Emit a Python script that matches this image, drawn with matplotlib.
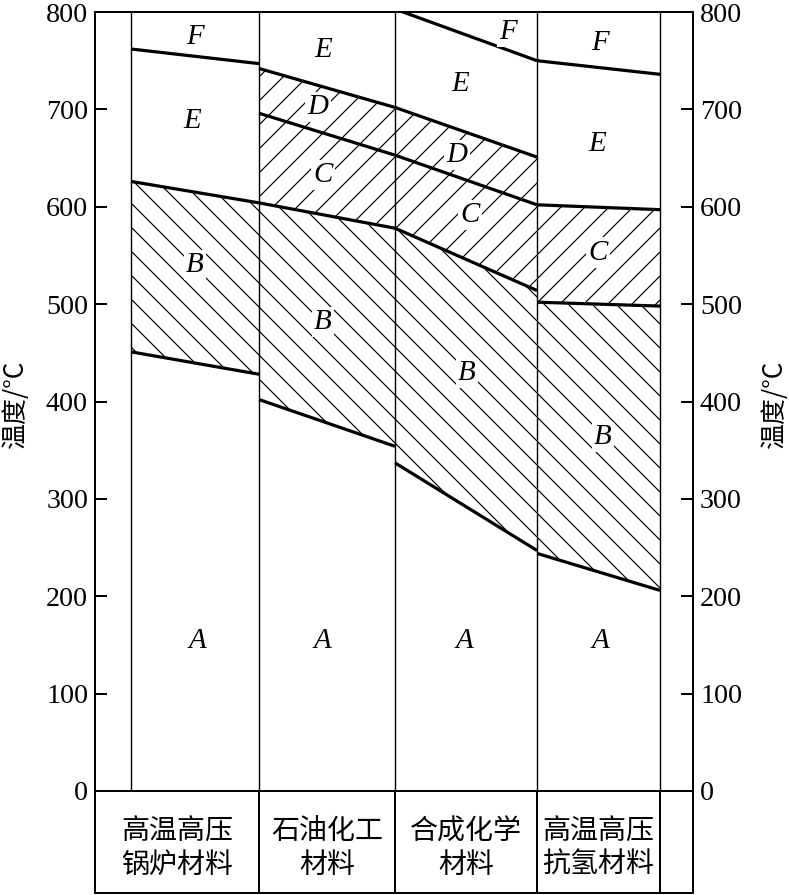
import numpy as np
import matplotlib
matplotlib.use('Agg')
import matplotlib.pyplot as plt

plt.rcParams['font.family'] = ['Liberation Serif', 'DejaVu Serif']
plt.rcParams['hatch.linewidth'] = 0.6
cjk = ['Noto Sans CJK SC', 'DejaVu Sans']

# column edges (x units), categories
edges = [36, 164, 300, 442, 565]
x_max = 598
categories = ['高温高压\n锅炉材料', '石油化工\n材料', '合成化学\n材料', '高温高压\n抗氢材料']

# boundary temperatures at left/right edge of each column (degC)
col1_BA = [451, 428]
col1_EB = [626, 604]
col1_FE = [762, 747]

col2_BA = [402, 354]
col2_CB = [604, 578]
col2_DC = [696, 653]
col2_ED = [742, 702]

col3_BA = [337, 247]
col3_CB = [578, 514]
col3_DC = [653, 602]
col3_ED = [702, 651]
col3_FE = [803, 750]

col4_BA = [244, 206]
col4_CB = [502, 498]
col4_EC = [602, 597]
col4_FE = [750, 736]

# zone letters: (letter, x, temperature)
zone_labels = [
    ('F', 100, 774), ('E', 97, 688), ('B', 100, 540), ('A', 102, 154),
    ('E', 228, 761), ('D', 223, 702), ('C', 228, 633), ('B', 228, 482), ('A', 227, 154),
    ('F', 413, 779), ('E', 365, 726), ('D', 362, 653), ('C', 375, 592), ('B', 372, 429), ('A', 369, 154),
    ('F', 505, 768), ('E', 502, 664), ('C', 503, 553), ('B', 508, 364), ('A', 505, 154),
]

W, H = 789, 895
dpi = 144
fig = plt.figure(figsize=(W/dpi, H/dpi), dpi=dpi)
ax = fig.add_axes([95/W, 1-791/H, 598/W, 779/H])
tb = fig.add_axes([95/W, 1-893/H, 598/W, 102/H])

def seg(i):
    return [edges[i], edges[i+1]]

# hatched zones
hatch_zones = [
    (0, col1_BA, col1_EB, '\\\\'),
    (1, col2_BA, col2_CB, '\\\\'),
    (1, col2_CB, col2_ED, '//'),
    (2, col3_BA, col3_CB, '\\\\'),
    (2, col3_CB, col3_ED, '//'),
    (3, col4_BA, col4_CB, '\\\\'),
    (3, col4_CB, col4_EC, '//'),
]
for i, lo, hi, h in hatch_zones:
    ax.fill_between(seg(i), lo, hi, facecolor='none', edgecolor='k', hatch=h, linewidth=0)

# boundary lines
bounds = [
    (0, [col1_BA, col1_EB, col1_FE]),
    (1, [col2_BA, col2_CB, col2_DC, col2_ED]),
    (2, [col3_BA, col3_CB, col3_DC, col3_ED, col3_FE]),
    (3, [col4_BA, col4_CB, col4_EC, col4_FE]),
]
for i, lines in bounds:
    for b in lines:
        ax.plot(seg(i), b, color='k', lw=1.6, solid_capstyle='butt')

for e in edges:
    ax.plot([e, e], [0, 800], color='k', lw=0.7)

for s, x, y in zone_labels:
    ax.text(x, y, s, ha='center', va='center', fontsize=14.5, style='italic',
            bbox=dict(facecolor='white', edgecolor='none', pad=1.0))

ax.set_xlim(0, x_max)
ax.set_ylim(0, 800)
ax.set_xticks([])
ax.set_yticks(range(0, 801, 100))
ax.tick_params(axis='y', direction='in', length=6, width=1, labelsize=14,
               right=True, labelright=True, pad=3.5)
for sp in ax.spines.values():
    sp.set_linewidth(1.0)

fig.text(16/W, 1-405/H, '温度/°C', rotation=90, ha='center', va='center',
         fontsize=13, family=cjk)
fig.text(775/W, 1-405/H, '温度/°C', rotation=90, ha='center', va='center',
         fontsize=13, family=cjk)

# category table under the chart
tb.set_xlim(0, x_max)
tb.set_ylim(0, 1)
tb.set_xticks([])
tb.set_yticks([])
for sp in tb.spines.values():
    sp.set_linewidth(1.0)
for e in edges[1:]:
    tb.plot([e, e], [0, 1], color='k', lw=1.0)
cell_left = [0] + edges[1:-1]
for i, name in enumerate(categories):
    cx = (cell_left[i] + edges[i+1]) / 2
    tb.text(cx, 0.44, name, ha='center', va='center', fontsize=14,
            family=cjk, linespacing=1.15)

fig.savefig('out.png', dpi=dpi)
